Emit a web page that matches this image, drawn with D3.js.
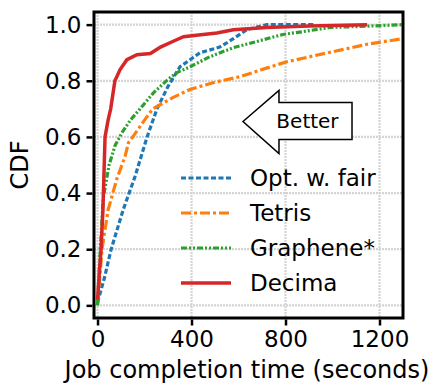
<!DOCTYPE html>
<html>
<head>
<meta charset="utf-8">
<script src="https://cdn.jsdelivr.net/npm/d3@7"></script>
<style>
  body { margin: 0; background: #fff; }
  text { font-family: "DejaVu Sans", sans-serif; fill: #000; }
</style>
</head>
<body>
<div id="chart"></div>
<script>
// size of the page
var w = 433;
var h = 385;

// x ticks and y ticks
var xTicks = [0, 400, 800, 1200];
var yTicks = [0, 0.2, 0.4, 0.6, 0.8, 1.0];

// series (job completion time in seconds, CDF)
var names = ["Opt. w. fair", "Tetris", "Graphene*", "Decima"];
var colors = ["#1f77b4", "#ff7f0e", "#2ca02c", "#d62728"];
var dashes = ["5,2.5", "10,3,3,3", "6,2,2,2,2,2", null];

var fairT = [0, 30, 58, 109, 160, 211, 253, 300, 351, 394, 436, 479, 520, 550, 578, 636, 720, 920];
var fairP = [0.01, 0.1, 0.2, 0.34, 0.46, 0.6, 0.7, 0.78, 0.85, 0.875, 0.9, 0.91, 0.92, 0.935, 0.95, 0.982, 1.0, 1.0];

var tetrisT = [0, 10, 19, 45, 82, 117, 132, 150, 200, 235, 320, 396, 500, 608, 700, 806, 900, 1004, 1147, 1300];
var tetrisP = [0.0, 0.1, 0.2, 0.34, 0.45, 0.53, 0.58, 0.6, 0.66, 0.7, 0.74, 0.77, 0.795, 0.815, 0.84, 0.868, 0.885, 0.904, 0.93, 0.95];

var grapheneT = [0, 6, 12, 24, 49, 75, 104, 140, 181, 238, 300, 340, 394, 479, 578, 678, 789, 874, 989, 1104, 1300];
var grapheneP = [0, 0.1, 0.2, 0.38, 0.5, 0.57, 0.615, 0.66, 0.70, 0.757, 0.805, 0.83, 0.85, 0.886, 0.918, 0.94, 0.965, 0.975, 0.99, 0.993, 1.0];

var decimaT = [0, 8, 15, 23, 32, 45, 56, 74, 96, 125, 168, 225, 268, 320, 366, 430, 508, 578, 720, 900, 1147];
var decimaP = [0.02, 0.12, 0.2, 0.34, 0.6, 0.66, 0.70, 0.80, 0.84, 0.875, 0.893, 0.897, 0.92, 0.94, 0.957, 0.963, 0.97, 0.982, 0.99, 0.995, 1.0];

// arrow annotation (data coords): tip and tail
var arrowTip = [619, 0.655];
var arrowTail = [1083, 0.655];

var series = [[fairT, fairP], [tetrisT, tetrisP], [grapheneT, grapheneP], [decimaT, decimaP]];

var pLeft = 94, pRight = 403, pTop = 12, pBottom = 318;

var x = d3.scaleLinear().domain([-15, 1300]).range([pLeft, pRight]);
var y = d3.scaleLinear().domain([-0.045, 1.045]).range([pBottom, pTop]);

var svg = d3.select("#chart")
  .append("svg")
  .attr("width", w)
  .attr("height", h);

svg.append("defs").append("clipPath")
  .attr("id", "clip")
  .append("rect")
  .attr("x", pLeft)
  .attr("y", pTop)
  .attr("width", pRight - pLeft)
  .attr("height", pBottom - pTop);

// grid
var grid = svg.append("g");
grid.selectAll(".gx")
  .data(xTicks)
  .enter()
  .append("line")
  .attr("x1", function(d) { return x(d); })
  .attr("x2", function(d) { return x(d); })
  .attr("y1", pTop)
  .attr("y2", pBottom)
  .attr("stroke", "#d4d4d4")
  .attr("stroke-width", 2.2)
  .attr("stroke-dasharray", "2,1");
grid.selectAll(".gy")
  .data(yTicks)
  .enter()
  .append("line")
  .attr("x1", pLeft)
  .attr("x2", pRight)
  .attr("y1", function(d) { return y(d); })
  .attr("y2", function(d) { return y(d); })
  .attr("stroke", "#d4d4d4")
  .attr("stroke-width", 2.2)
  .attr("stroke-dasharray", "2,1");

// curves
var line = d3.line()
  .x(function(d) { return x(d[0]); })
  .y(function(d) { return y(d[1]); });

var curves = svg.append("g").attr("clip-path", "url(#clip)");
series.forEach(function(s, i) {
  var pts = s[0].map(function(t, j) { return [t, s[1][j]]; });
  curves.append("path")
    .datum(pts)
    .attr("d", line)
    .attr("fill", "none")
    .attr("stroke", colors[i])
    .attr("stroke-width", i == 3 ? 3.5 : 3.2)
    .attr("stroke-dasharray", dashes[i]);
});

// arrow "Better"
var tipX = x(arrowTip[0]), midY = y(arrowTip[1]), tailX = x(arrowTail[0]);
var headX = tipX + 36;
var arrowPts = [
  [tipX, midY], [headX, midY - 31], [headX, midY - 19], [tailX, midY - 19],
  [tailX, midY + 18], [headX, midY + 18], [headX, midY + 32]
];
svg.append("polygon")
  .attr("points", arrowPts.map(function(p) { return p.join(","); }).join(" "))
  .attr("fill", "#fff")
  .attr("stroke", "#000")
  .attr("stroke-width", 1.5);
svg.append("text")
  .attr("x", (headX + tailX) / 2 - 8)
  .attr("y", midY + 7)
  .attr("text-anchor", "middle")
  .attr("font-size", "20px")
  .text("Better");

// legend
var leg = svg.append("g");
names.forEach(function(n, i) {
  var ly = 178 + i * 35;
  leg.append("line")
    .attr("x1", 181)
    .attr("x2", 231)
    .attr("y1", ly)
    .attr("y2", ly)
    .attr("stroke", colors[i])
    .attr("stroke-width", i == 3 ? 3.5 : 3.2)
    .attr("stroke-dasharray", dashes[i]);
  leg.append("text")
    .attr("x", 250)
    .attr("y", ly + 8)
    .attr("font-size", "23px")
    .text(n);
});

// frame
svg.append("rect")
  .attr("x", pLeft)
  .attr("y", pTop)
  .attr("width", pRight - pLeft)
  .attr("height", pBottom - pTop)
  .attr("fill", "none")
  .attr("stroke", "#000")
  .attr("stroke-width", 3);

// axes
var xAxis = svg.append("g")
  .attr("transform", "translate(0," + (pBottom + 1.5) + ")")
  .call(d3.axisBottom(x).tickValues(xTicks).tickSize(6).tickPadding(5).tickFormat(d3.format("d")));
var yAxis = svg.append("g")
  .attr("transform", "translate(" + (pLeft - 1.5) + ",0)")
  .call(d3.axisLeft(y).tickValues(yTicks).tickSize(6).tickPadding(5).tickFormat(d3.format(".1f")));
[xAxis, yAxis].forEach(function(a) {
  a.select(".domain").remove();
  a.selectAll(".tick line").attr("stroke", "#000").attr("stroke-width", 2.5);
  a.selectAll(".tick text").attr("font-size", "23px").attr("font-family", "DejaVu Sans").attr("fill", "#000");
});

// axis labels
svg.append("text")
  .attr("x", 247)
  .attr("y", 378)
  .attr("text-anchor", "middle")
  .attr("font-size", "24px")
  .text("Job completion time (seconds)");
svg.append("text")
  .attr("transform", "translate(28,165) rotate(-90)")
  .attr("text-anchor", "middle")
  .attr("font-size", "24px")
  .text("CDF");
</script>
</body>
</html>
